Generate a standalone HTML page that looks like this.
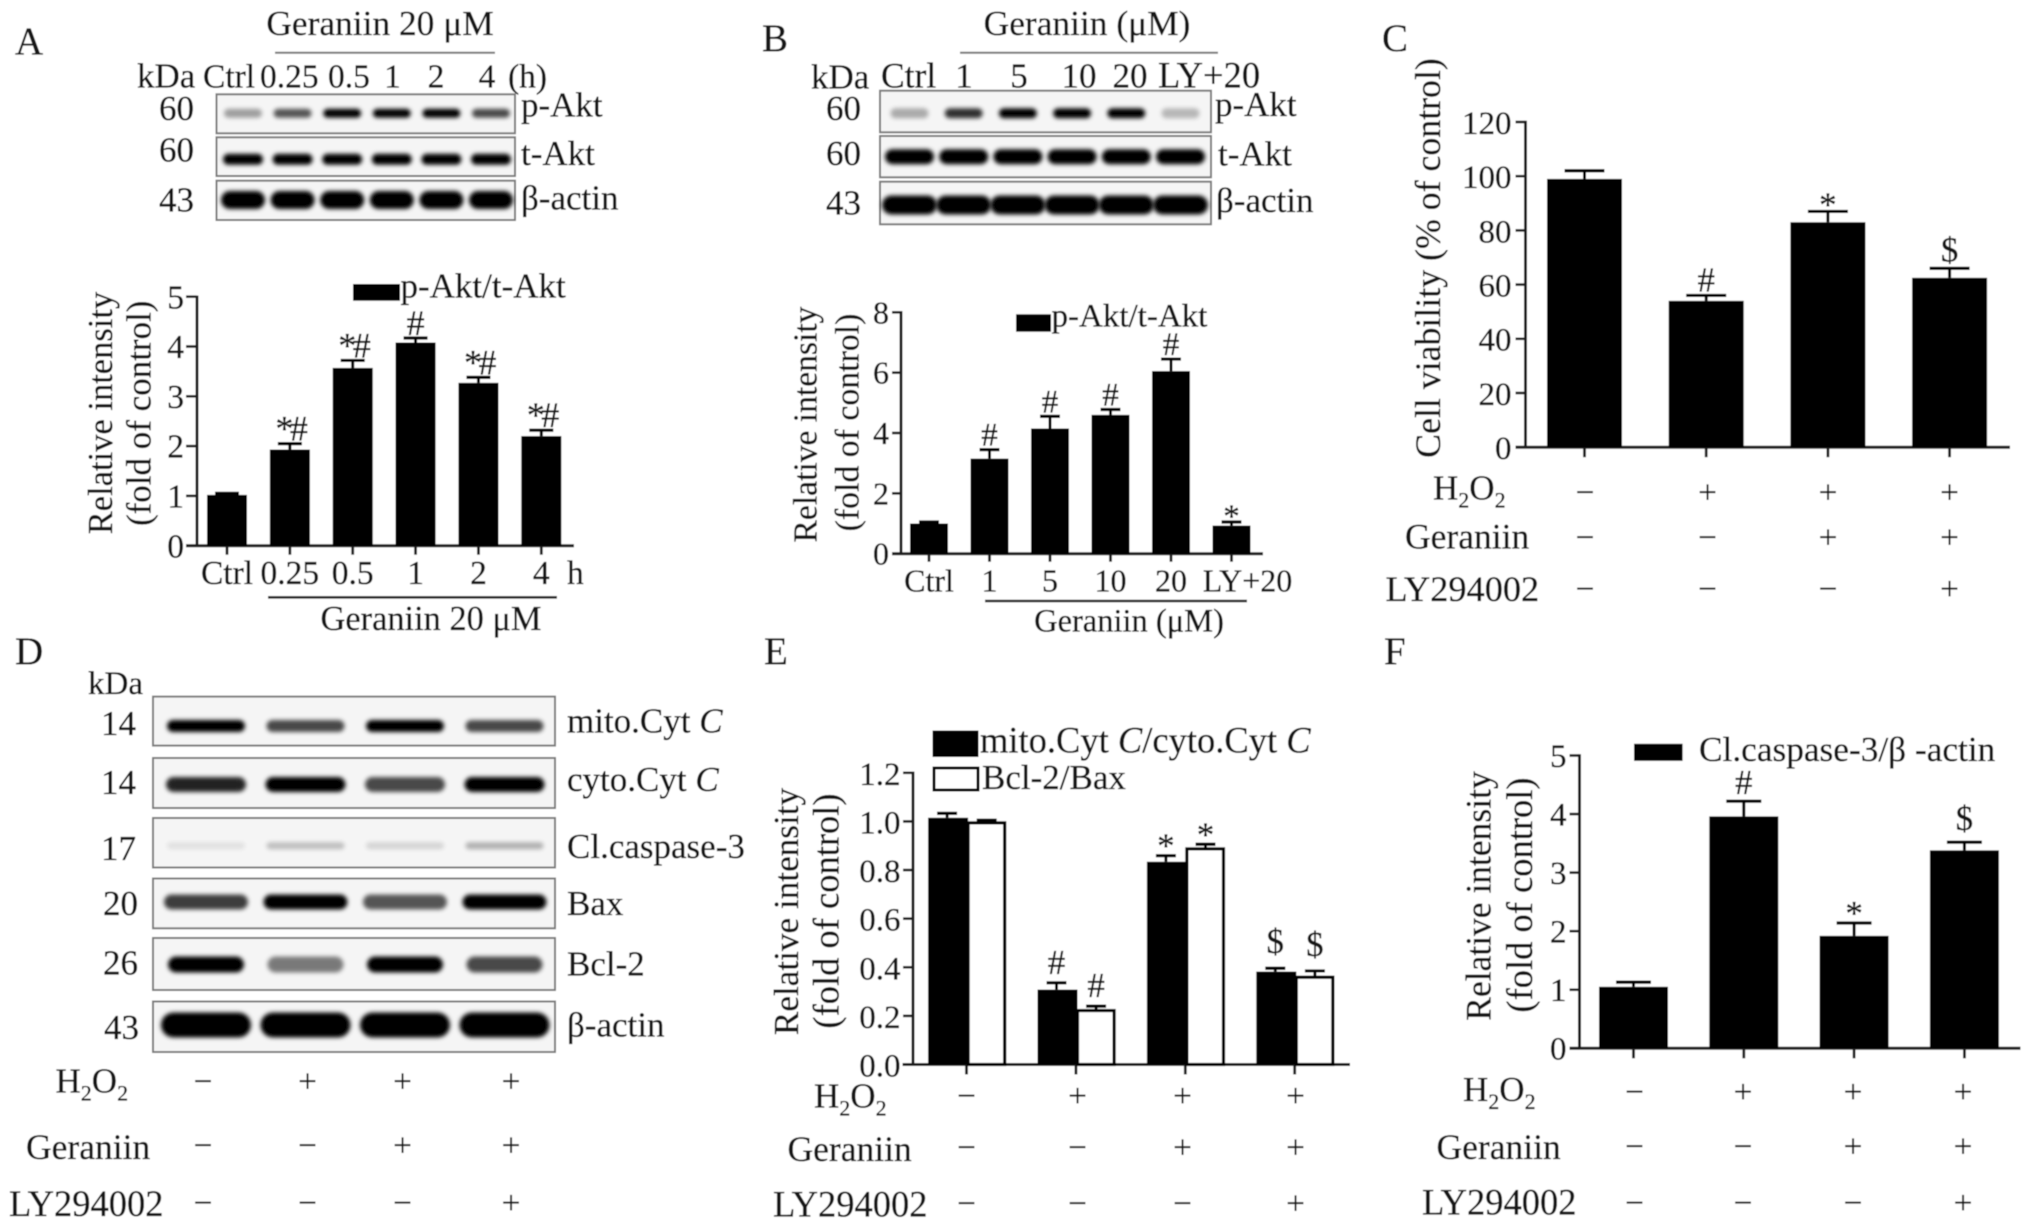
<!DOCTYPE html>
<html>
<head>
<meta charset="utf-8">
<title>Geraniin figure panels</title>
<style>
html,body{margin:0;padding:0;background:#fff;}
svg{display:block;}
text{font-family:"Liberation Serif",serif;fill:#161616;stroke:#161616;stroke-width:0.35px;}
</style>
</head>
<body>
<svg id="fig" xmlns="http://www.w3.org/2000/svg" width="2031" height="1228" viewBox="0 0 2031 1228">
<defs>
<filter id="soft" x="-2%" y="-2%" width="104%" height="104%"><feGaussianBlur stdDeviation="0.55"/></filter>
<filter id="bandblur" x="-30%" y="-120%" width="160%" height="340%"><feGaussianBlur stdDeviation="2"/></filter>
</defs>
<g id="root" filter="url(#soft)" font-size="35">
<rect x="0" y="0" width="2031" height="1228" fill="#fff"/>
<g id="blots"></g>
<g id="charts"></g>
<g id="signs"></g>

<!-- panel letters -->
<text x="15" y="54" font-size="39">A</text>
<text x="762" y="51" font-size="39">B</text>
<text x="1382" y="51" font-size="39">C</text>
<text x="15" y="664" font-size="39">D</text>
<text x="764" y="664" font-size="39">E</text>
<text x="1384" y="664" font-size="39">F</text>

<!-- panel A blot labels -->
<text x="380" y="35" text-anchor="middle" font-size="35.4">Geraniin 20 μM</text>
<line x1="275" x2="495" y1="52.7" y2="52.7" stroke="#777" stroke-width="2"/>
<text x="137" y="87.3">kDa</text>
<text x="203" y="87.3" font-size="33.5">Ctrl</text>
<text x="260" y="87.3" font-size="33.5">0.25</text>
<text x="328" y="87.3" font-size="33.5">0.5</text>
<text x="392.5" y="87.3" text-anchor="middle" font-size="33.5">1</text>
<text x="436" y="87.3" text-anchor="middle" font-size="33.5">2</text>
<text x="487" y="87.3" text-anchor="middle" font-size="33.5">4</text>
<text x="508" y="87.3" font-size="33.5">(h)</text>
<text x="194" y="120" text-anchor="end">60</text>
<text x="194" y="161.7" text-anchor="end">60</text>
<text x="194" y="211.7" text-anchor="end">43</text>
<text x="521" y="116.7">p-Akt</text>
<text x="521" y="165">t-Akt</text>
<text x="521" y="209.3">β-actin</text>

<!-- panel A chart labels -->
<rect x="353" y="284" width="47" height="16.7" fill="#000"/>
<text x="400.5" y="297.3">p-Akt/t-Akt</text>
<text x="567" y="584" font-size="33.5">h</text>
<line x1="268" x2="557" y1="597.3" y2="597.3" stroke="#222" stroke-width="2.6"/>
<text x="431" y="630" text-anchor="middle" font-size="34.4">Geraniin 20 μM</text>
<text transform="translate(112,413) rotate(-90)" text-anchor="middle" font-size="34.5">Relative intensity</text>
<text transform="translate(150.5,413.3) rotate(-90)" text-anchor="middle" font-size="35">(fold of control)</text>

<!-- panel B blot labels -->
<text x="1087" y="35" text-anchor="middle" font-size="35.4">Geraniin (μM)</text>
<line x1="960" x2="1218" y1="52.7" y2="52.7" stroke="#777" stroke-width="2"/>
<text x="811" y="88.3">kDa</text>
<text x="881" y="87.3" font-size="35.5">Ctrl</text>
<text x="964" y="87.3" text-anchor="middle">1</text>
<text x="1019" y="87.3" text-anchor="middle">5</text>
<text x="1079" y="87.3" text-anchor="middle">10</text>
<text x="1130" y="87.3" text-anchor="middle">20</text>
<text x="1158" y="87.3" font-size="36.5">LY+20</text>
<text x="861" y="120" text-anchor="end">60</text>
<text x="861" y="165" text-anchor="end">60</text>
<text x="861" y="214.3" text-anchor="end">43</text>
<text x="1215" y="116">p-Akt</text>
<text x="1218" y="165.7">t-Akt</text>
<text x="1216" y="212">β-actin</text>

<!-- panel B chart labels -->
<rect x="1016" y="314.3" width="35" height="17.4" fill="#000"/>
<text x="1051.5" y="326.7" font-size="33">p-Akt/t-Akt</text>
<line x1="985" x2="1247" y1="601" y2="601" stroke="#222" stroke-width="2.6"/>
<text x="1129" y="631.7" text-anchor="middle" font-size="32.5">Geraniin (μM)</text>
<text transform="translate(816.5,424.5) rotate(-90)" text-anchor="middle" font-size="33.6">Relative intensity</text>
<text transform="translate(858.5,422.5) rotate(-90)" text-anchor="middle" font-size="33.8">(fold of control)</text>

<!-- panel C labels -->
<text transform="translate(1440,258) rotate(-90)" text-anchor="middle" font-size="35.8">Cell viability (% of control)</text>
<text x="1433" y="499.5">H<tspan font-size="22" dy="8">2</tspan><tspan dy="-8">O</tspan><tspan font-size="22" dy="8">2</tspan></text>
<text x="1405" y="548.5" font-size="35.5">Geraniin</text>
<text x="1385.5" y="601" font-size="36.3">LY294002</text>

<!-- panel D labels -->
<text x="88" y="694" font-size="33">kDa</text>
<text x="136" y="735" text-anchor="end">14</text>
<text x="136" y="794" text-anchor="end">14</text>
<text x="136" y="860" text-anchor="end">17</text>
<text x="138" y="915" text-anchor="end">20</text>
<text x="138" y="974.5" text-anchor="end">26</text>
<text x="139" y="1039" text-anchor="end">43</text>
<text x="567" y="732.5">mito.Cyt <tspan font-style="italic">C</tspan></text>
<text x="567" y="791">cyto.Cyt <tspan font-style="italic">C</tspan></text>
<text x="567" y="858">Cl.caspase-3</text>
<text x="567" y="915">Bax</text>
<text x="567" y="975.5">Bcl-2</text>
<text x="567" y="1036.5">β-actin</text>
<text x="55.5" y="1092.5">H<tspan font-size="22" dy="8">2</tspan><tspan dy="-8">O</tspan><tspan font-size="22" dy="8">2</tspan></text>
<text x="26" y="1159" font-size="35.5">Geraniin</text>
<text x="9" y="1216" font-size="36.5">LY294002</text>

<!-- panel E labels -->
<rect x="932.5" y="730.5" width="46" height="26.5" fill="#000"/>
<text x="980" y="752.5" font-size="36.5">mito.Cyt <tspan font-style="italic">C</tspan>/cyto.Cyt <tspan font-style="italic">C</tspan></text>
<rect x="934" y="768" width="44" height="22" fill="#fff" stroke="#000" stroke-width="3"/>
<text x="982" y="788.8" font-size="35">Bcl-2/Bax</text>
<text transform="translate(798,911.5) rotate(-90)" text-anchor="middle" font-size="35.2">Relative intensity</text>
<text transform="translate(838.5,911) rotate(-90)" text-anchor="middle" font-size="36.5">(fold of control)</text>
<text x="814" y="1107.5">H<tspan font-size="22" dy="8">2</tspan><tspan dy="-8">O</tspan><tspan font-size="22" dy="8">2</tspan></text>
<text x="787.5" y="1161" font-size="35.5">Geraniin</text>
<text x="773" y="1216.5" font-size="36.5">LY294002</text>

<!-- panel F labels -->
<rect x="1634" y="743.8" width="48.6" height="17" fill="#000"/>
<text x="1699" y="760.8" font-size="35.3">Cl.caspase-3/β -actin</text>
<text transform="translate(1490.5,896) rotate(-90)" text-anchor="middle" font-size="35.5">Relative intensity</text>
<text transform="translate(1532,895) rotate(-90)" text-anchor="middle" font-size="36.5">(fold of control)</text>
<text x="1463" y="1101">H<tspan font-size="22" dy="8">2</tspan><tspan dy="-8">O</tspan><tspan font-size="22" dy="8">2</tspan></text>
<text x="1436.5" y="1159" font-size="35.5">Geraniin</text>
<text x="1422" y="1214.5" font-size="36.5">LY294002</text>
</g>
</svg>
<script>
// ---------- chart data ----------
const panelACategories = ['Ctrl', '0.25', '0.5', '1', '2', '4'];
const panelAValues = [1.02, 1.93, 3.57, 4.08, 3.27, 2.2];
const panelAErrorTops = [1.05, 2.05, 3.72, 4.17, 3.38, 2.32];
const panelAMarks = ['', '*#', '*#', '#', '*#', '*#'];
const panelATicks = [0, 1, 2, 3, 4, 5];

const panelBCategories = ['Ctrl', '1', '5', '10', '20', 'LY+20'];
const panelBValues = [1.0, 3.15, 4.15, 4.6, 6.05, 0.93];
const panelBErrorTops = [1.05, 3.45, 4.55, 4.78, 6.45, 1.05];
const panelBMarks = ['', '#', '#', '#', '#', '*'];
const panelBTicks = [0, 2, 4, 6, 8];

const panelCValues = [99, 54, 83, 62.5];
const panelCErrorTops = [102, 56, 87, 66];
const panelCMarks = ['', '#', '*', '$'];
const panelCTicks = [0, 20, 40, 60, 80, 100, 120];

const panelEMitoValues = [1.015, 0.308, 0.834, 0.382];
const panelEMitoErrorTops = [1.033, 0.336, 0.859, 0.396];
const panelEMitoMarks = ['', '#', '*', '$'];
const panelEBcl2Values = [0.994, 0.222, 0.887, 0.359];
const panelEBcl2ErrorTops = [1.005, 0.24, 0.906, 0.385];
const panelEBcl2Marks = ['', '#', '*', '$'];
const panelETicks = ['0.0', '0.2', '0.4', '0.6', '0.8', '1.0', '1.2'];

const panelFValues = [1.05, 3.96, 1.92, 3.38];
const panelFErrorTops = [1.13, 4.22, 2.14, 3.52];
const panelFMarks = ['', '#', '*', '$'];
const panelFTicks = [0, 1, 2, 3, 4, 5];

const signH2O2 = ['−', '+', '+', '+'];
const signGeraniin = ['−', '−', '+', '+'];
const signLY = ['−', '−', '−', '+'];

// blot band intensities (0–1), one per lane
const blotAPhospho = [0.35, 0.65, 1, 1, 1, 0.7];
const blotATotal = [1, 1, 1, 1, 1, 1];
const blotAActin = [1, 1, 1, 1, 1, 1];
const blotBPhospho = [0.3, 0.8, 1, 1, 1, 0.25];
const blotBTotal = [1, 1, 1, 1, 1, 1];
const blotBActin = [1, 1, 1, 1, 1, 1];
const blotDMito = [1, 0.7, 1, 0.7];
const blotDCyto = [0.85, 1, 0.7, 1];
const blotDCaspase = [0.08, 0.22, 0.13, 0.28];
const blotDBax = [0.75, 1, 0.65, 1];
const blotDBcl2 = [1, 0.5, 1, 0.7];
const blotDActin = [1, 1, 1, 1];

// ---------- drawing helpers ----------
const NS = 'http://www.w3.org/2000/svg';
function mk(parent, tag, attrs, name, txt) {
  const el = document.createElementNS(NS, tag);
  for (const k in attrs) el.setAttribute(k, attrs[k]);
  
  
  if (txt !== undefined) el.textContent = txt;
  parent.appendChild(el);
  return el;
}
const chartsG = document.getElementById('charts');
const blotsG = document.getElementById('blots');
const signsG = document.getElementById('signs');

function axes(c) {
  const g = mk(chartsG, 'g', {}, c.id + '-axes');
  const y = c.yScale;
  mk(g, 'line', {x1: c.axisX, x2: c.axisX, y1: y(parseFloat(c.ticks[c.ticks.length - 1])) - 1.2, y2: y(0), stroke: '#1a1a1a', 'stroke-width': 3}, c.id + '-y-axis');
  mk(g, 'line', {x1: c.xStart, x2: c.xEnd, y1: y(0), y2: y(0), stroke: '#1a1a1a', 'stroke-width': 3}, c.id + '-x-axis');
  c.ticks.forEach(function (t) {
    const v = parseFloat(t);
    mk(g, 'line', {x1: c.axisX - c.tickLen, x2: c.axisX, y1: y(v), y2: y(v), stroke: '#1a1a1a', 'stroke-width': 2.6}, c.id + '-y-tick');
    mk(g, 'text', {x: c.labelRight, y: y(v) + c.labelDy, 'text-anchor': 'end', 'font-size': c.fs}, c.id + '-y-tick-label', String(t));
  });
  for (let i = 0; i < c.n; i++) {
    mk(g, 'line', {x1: c.x(i), x2: c.x(i), y1: y(0), y2: y(0) + c.xTick, stroke: '#1a1a1a', 'stroke-width': 2.8}, c.id + '-x-tick');
  }
}
function errorBar(g, c, cx, top, base, name) {
  const y = c.yScale;
  mk(g, 'line', {x1: cx, x2: cx, y1: y(top), y2: y(base), stroke: '#000', 'stroke-width': 3}, name + '-error-stem');
  mk(g, 'line', {x1: cx - c.capW / 2, x2: cx + c.capW / 2, y1: y(top), y2: y(top), stroke: '#000', 'stroke-width': 3.2}, name + '-error-cap');
}
function mark(g, c, cx, top, m, name) {
  if (!m) return;
  const last = m[m.length - 1];
  const gap = c.gap[last];
  const fs = c.markFs;
  const t = mk(g, 'text', {x: cx, y: c.yScale(top) + gap, 'text-anchor': 'middle', 'font-size': fs, fill: '#222'}, name + '-significance', m);
  if (m.length > 1) t.setAttribute('letter-spacing', '-3.5');
}
function solidBars(c, values, tops, marks) {
  const g = mk(chartsG, 'g', {}, c.id + '-bars');
  const y = c.yScale;
  values.forEach(function (v, i) {
    const cx = c.x(i);
    errorBar(g, c, cx, tops[i], v, c.id + '-bar-' + i);
    mk(g, 'rect', {x: cx - c.barW / 2, y: y(v), width: c.barW, height: y(0) - y(v), fill: '#000'}, c.id + '-bar-' + i);
    mark(g, c, cx, tops[i], marks[i], c.id + '-bar-' + i);
  });
}
function groupedBars(c, aV, aT, aM, bV, bT, bM) {
  const g = mk(chartsG, 'g', {}, c.id + '-bars');
  const y = c.yScale;
  aV.forEach(function (v, i) {
    const cx = c.x(i);
    const ax = cx - c.barW + 1.6, bx = cx + 1.6;
    errorBar(g, c, ax + c.barW / 2 - 1, aT[i], v, c.id + '-mito-bar-' + i);
    mk(g, 'rect', {x: ax, y: y(v), width: c.barW, height: y(0) - y(v), fill: '#000'}, c.id + '-mito-bar-' + i);
    errorBar(g, c, bx + c.barW / 2 - 1.4, bT[i], bV[i], c.id + '-bcl2-bar-' + i);
    mk(g, 'rect', {x: bx, y: y(bV[i]), width: c.barW - 3.4, height: y(0) - y(bV[i]), fill: '#fff', stroke: '#000', 'stroke-width': 3.2}, c.id + '-bcl2-bar-' + i);
    mark(g, c, ax + c.barW / 2 - 1, aT[i], aM[i], c.id + '-mito-bar-' + i);
    mark(g, c, bx + c.barW / 2 - 1.4, bT[i], bM[i], c.id + '-bcl2-bar-' + i);
  });
}
function xLabels(c, cats, y, shift) {
  cats.forEach(function (t, i) {
    mk(chartsG, 'text', {x: c.x(i) + (shift ? shift(i) : 0), y: y, 'text-anchor': 'middle', 'font-size': c.fs}, c.id + '-x-tick-label', t);
  });
}
function linY(v0, vMax, yZero, yTop) {
  return function (v) { return yZero + (yTop - yZero) * (v - v0) / (vMax - v0); };
}
function signRow(sym, cols, y, name) {
  sym.forEach(function (s, i) {
    mk(signsG, 'text', {x: cols[i], y: y + 9, 'text-anchor': 'middle', 'font-size': 33, fill: '#333'}, name, s);
  });
}
function blot(x, y, w, h, first, step, bandW, bandH, vals, bandY, name) {
  const g = mk(blotsG, 'g', {}, name);
  mk(g, 'rect', {x: x, y: y, width: w, height: h, fill: '#f5f5f5', stroke: '#7a7a7a', 'stroke-width': 2}, name + '-frame');
  vals.forEach(function (v, i) {
    const cx = first + step * i;
    mk(g, 'rect', {x: cx - bandW / 2, y: bandY - bandH / 2, width: bandW, height: bandH, rx: bandH / 2, fill: '#000', opacity: v, filter: 'url(#bandblur)'}, name + '-band-' + i);
  });
}

// ---------- blots ----------
blot(216.5, 94.3, 298.5, 39, 243, 49.6, 38, 9, blotAPhospho, 113.3, 'a-blot-p-akt');
blot(216.5, 137.3, 298.5, 38.7, 243, 49.6, 40, 11, blotATotal, 159.3, 'a-blot-t-akt');
blot(216.5, 180.7, 298.5, 39.3, 243, 49.6, 44, 18, blotAActin, 200, 'a-blot-actin');
blot(880, 90.7, 331, 41.6, 909.5, 54.2, 38, 10, blotBPhospho, 113.3, 'b-blot-p-akt');
blot(880, 136, 331, 41.3, 909.5, 54.2, 49, 15, blotBTotal, 156.7, 'b-blot-t-akt');
blot(880, 181.7, 331, 42.6, 909.5, 54.2, 55, 19, blotBActin, 205, 'b-blot-actin');
blot(153, 696.6, 402, 49, 206, 99.5, 78, 12, blotDMito, 726, 'd-blot-mito-cyt-c');
blot(153, 758, 402, 50, 206, 99.5, 80, 15, blotDCyto, 784.5, 'd-blot-cyto-cyt-c');
blot(153, 818, 402, 49.5, 206, 99.5, 78, 7, blotDCaspase, 845.7, 'd-blot-caspase');
blot(153, 878.5, 402, 49.8, 206, 99.5, 84, 15, blotDBax, 902, 'd-blot-bax');
blot(153, 938, 402, 52, 206, 99.5, 76, 16, blotDBcl2, 964.5, 'd-blot-bcl2');
blot(153, 1001.5, 402, 50.5, 206, 99.5, 90, 25, blotDActin, 1025, 'd-blot-actin');

// ---------- panel A ----------
const chartA = {id: 'a', n: 6, axisX: 197, xStart: 186, xEnd: 574, tickLen: 11, labelRight: 184, labelDy: 11.6, fs: 33.5, xTick: 9,
  barW: 40, capW: 24, markFs: 36, gap: {'#': -3, '*': 5, '$': -7}, ticks: panelATicks,
  yScale: linY(0, 5, 545.7, 296.7), x: function (i) { return 227 + 62.86 * i; }};
axes(chartA);
solidBars(chartA, panelAValues, panelAErrorTops, panelAMarks);
xLabels(chartA, panelACategories, 584);

// ---------- panel B ----------
const chartB = {id: 'b', n: 6, axisX: 901, xStart: 892, xEnd: 1263, tickLen: 9, labelRight: 889, labelDy: 11, fs: 32, xTick: 8,
  barW: 38, capW: 20, markFs: 33, gap: {'#': -4, '*': 5, '$': -7}, ticks: panelBTicks,
  yScale: linY(0, 8, 553.7, 312.3), x: function (i) { return 929 + 60.5 * i; }};
axes(chartB);
solidBars(chartB, panelBValues, panelBErrorTops, panelBMarks);
xLabels(chartB, panelBCategories, 591.7, function (i) { return i === 5 ? 16 : 0; });

// ---------- panel C ----------
const chartC = {id: 'c', n: 4, axisX: 1525.5, xStart: 1515.5, xEnd: 2010, tickLen: 10, labelRight: 1511.5, labelDy: 11.9, fs: 33, xTick: 10,
  barW: 75, capW: 40, markFs: 35, gap: {'#': -4, '*': 5, '$': -7}, ticks: panelCTicks,
  yScale: linY(0, 120, 447.2, 122), x: function (i) { return 1584.5 + 121.7 * i; }};
axes(chartC);
solidBars(chartC, panelCValues, panelCErrorTops, panelCMarks);
signRow(signH2O2, [1585, 1707.5, 1828, 1949.5], 494, 'c-sign-h2o2');
signRow(signGeraniin, [1585, 1707.5, 1828, 1949.5], 539, 'c-sign-geraniin');
signRow(signLY, [1585, 1707.5, 1828, 1949.5], 590.5, 'c-sign-ly294002');

// ---------- panel D signs ----------
signRow(signH2O2, [203, 307.5, 402.5, 511], 1083, 'd-sign-h2o2');
signRow(signGeraniin, [203, 307.5, 402.5, 511], 1147, 'd-sign-geraniin');
signRow(signLY, [203, 307.5, 402.5, 511], 1204.5, 'd-sign-ly294002');

// ---------- panel E ----------
const chartE = {id: 'e', n: 4, axisX: 913, xStart: 902.5, xEnd: 1350, tickLen: 10, labelRight: 900.5, labelDy: 12, fs: 33, xTick: 10,
  barW: 40, capW: 20, markFs: 35, gap: {'#': -9, '*': 2, '$': -15}, ticks: panelETicks,
  yScale: linY(0, 1.2, 1064.5, 772.8), x: function (i) { return 966.5 + 109.4 * i; }};
axes(chartE);
groupedBars(chartE, panelEMitoValues, panelEMitoErrorTops, panelEMitoMarks, panelEBcl2Values, panelEBcl2ErrorTops, panelEBcl2Marks);
signRow(signH2O2, [966.5, 1077.5, 1182.5, 1295.5], 1097.3, 'e-sign-h2o2');
signRow(signGeraniin, [966.5, 1077.5, 1182.5, 1295.5], 1149, 'e-sign-geraniin');
signRow(signLY, [966.5, 1077.5, 1182.5, 1295.5], 1205, 'e-sign-ly294002');

// ---------- panel F ----------
const chartF = {id: 'f', n: 4, axisX: 1579.5, xStart: 1569.5, xEnd: 2020.5, tickLen: 10, labelRight: 1566.5, labelDy: 11.3, fs: 33, xTick: 10,
  barW: 69, capW: 35, markFs: 35, gap: {'#': -7, '*': 2, '$': -12}, ticks: panelFTicks,
  yScale: linY(0, 5, 1048.3, 755.5), x: function (i) { return 1633.5 + 110.3 * i; }};
axes(chartF);
solidBars(chartF, panelFValues, panelFErrorTops, panelFMarks);
signRow(signH2O2, [1634.5, 1743, 1853, 1963], 1093.5, 'f-sign-h2o2');
signRow(signGeraniin, [1634.5, 1743, 1853, 1963], 1148, 'f-sign-geraniin');
signRow(signLY, [1634.5, 1743, 1853, 1963], 1204.5, 'f-sign-ly294002');
</script>
</body>
</html>
